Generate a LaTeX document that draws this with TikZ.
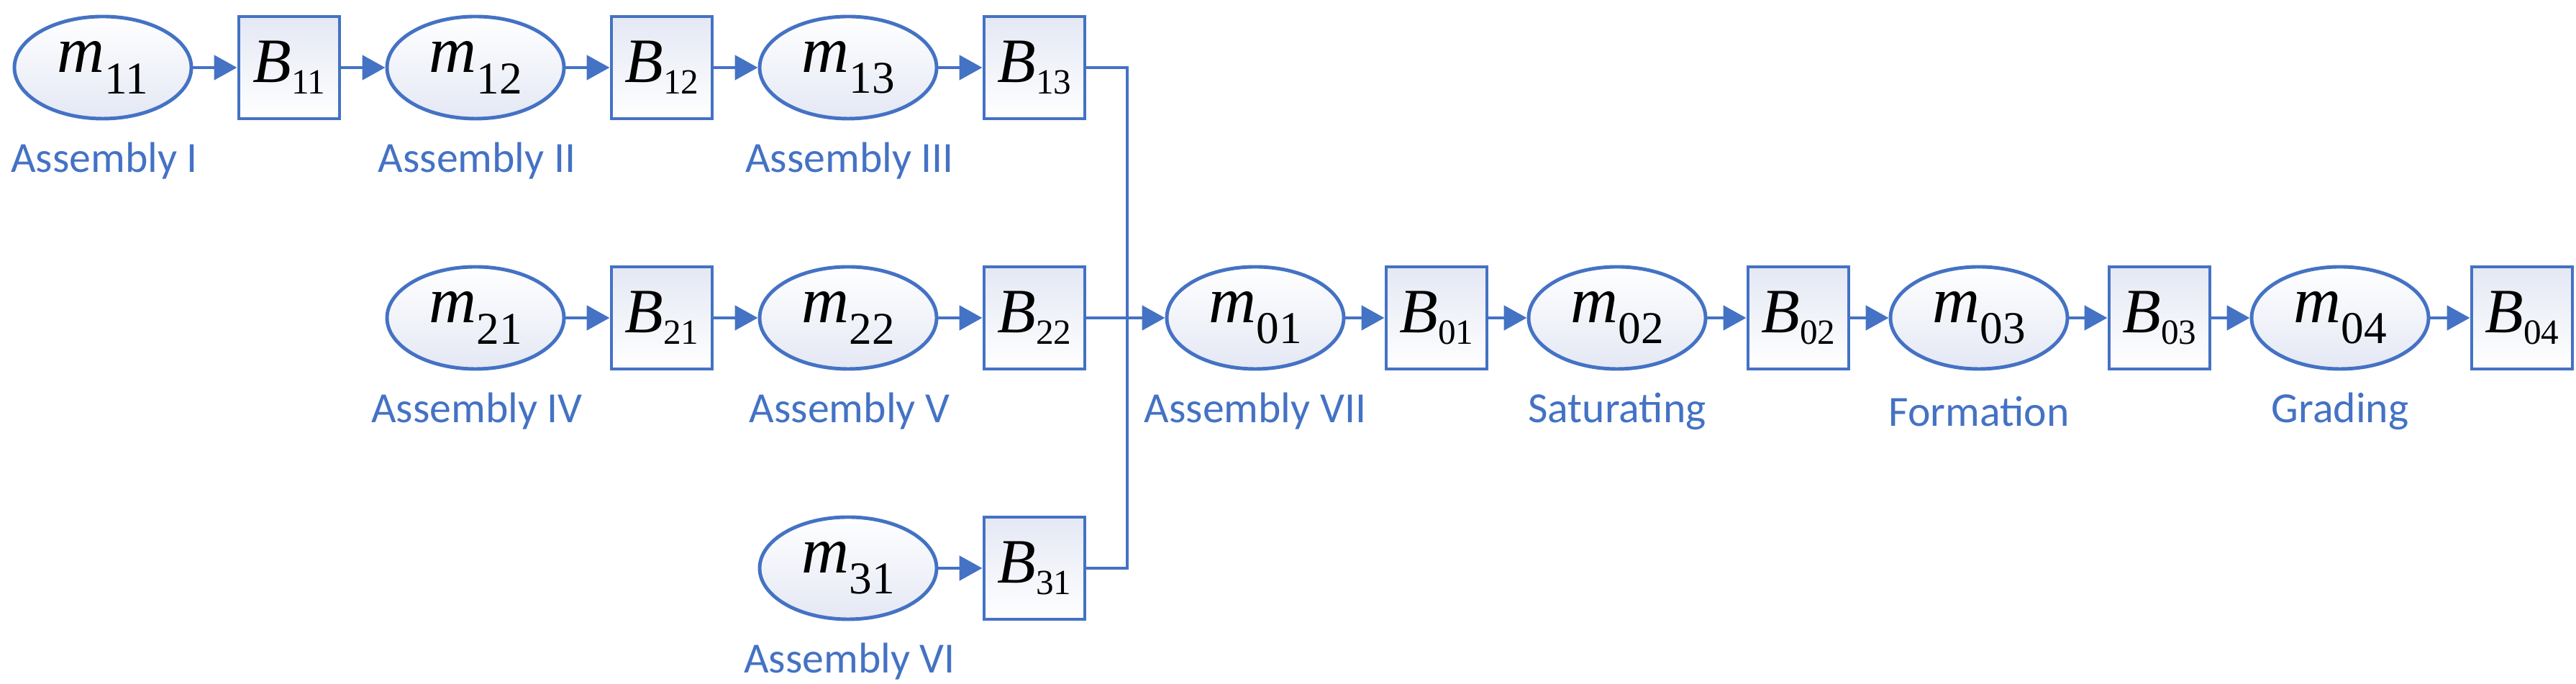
\documentclass[tikz,border=0pt]{standalone}
\usepackage{fontspec}
\setmainfont{Liberation Serif}
\newfontfamily\lab{Carlito}
\usetikzlibrary{shapes.geometric,arrows.meta}
\definecolor{bl}{HTML}{4472C4}
\definecolor{fl}{HTML}{E4E8F4}
\tikzset{
  mach/.style={ellipse,draw=bl,line width=1.4pt,minimum width=2.46cm,minimum height=1.42cm,inner sep=0pt,top color=white,bottom color=fl,font=\fontsize{26}{26}\selectfont},
  buf/.style={rectangle,draw=bl,line width=1.4pt,minimum width=1.4cm,minimum height=1.42cm,inner sep=0pt,top color=fl,bottom color=white,font=\fontsize{25}{25}\selectfont},
  lbl/.style={text=bl,font=\lab\fontsize{17}{18}\selectfont,anchor=center},
  con/.style={draw=bl,line width=1.4pt},
  arr/.style={con,-{Triangle[length=0.32cm,width=0.34cm]}}
}
\newcommand{\mm}[1]{\textit{m}\raisebox{-0.7ex}{\fontsize{18}{18}\selectfont #1}}
\newcommand{\bb}[1]{\textit{B}\raisebox{-0.4ex}{\fontsize{14}{14}\selectfont #1}}
\begin{document}
\begin{tikzpicture}
\useasboundingbox (0,0) rectangle (35.81,9.51);
\def\ya{8.57}\def\yb{5.09}\def\yc{1.61}
% row 1
\node[mach] (m11) at (1.43,\ya) {\mm{11}};
\node[buf]  (b11) at (4.02,\ya) {\bb{11}};
\node[mach] (m12) at (6.61,\ya) {\mm{12}};
\node[buf]  (b12) at (9.20,\ya) {\bb{12}};
\node[mach] (m13) at (11.79,\ya) {\mm{13}};
\node[buf]  (b13) at (14.38,\ya) {\bb{13}};
% row 2
\node[mach] (m21) at (6.61,\yb) {\mm{21}};
\node[buf]  (b21) at (9.20,\yb) {\bb{21}};
\node[mach] (m22) at (11.79,\yb) {\mm{22}};
\node[buf]  (b22) at (14.38,\yb) {\bb{22}};
\node[mach] (m01) at (17.45,\yb) {\mm{01}};
\node[buf]  (b01) at (19.97,\yb) {\bb{01}};
\node[mach] (m02) at (22.48,\yb) {\mm{02}};
\node[buf]  (b02) at (25.00,\yb) {\bb{02}};
\node[mach] (m03) at (27.51,\yb) {\mm{03}};
\node[buf]  (b03) at (30.02,\yb) {\bb{03}};
\node[mach] (m04) at (32.53,\yb) {\mm{04}};
\node[buf]  (b04) at (35.06,\yb) {\bb{04}};
% row 3
\node[mach] (m31) at (11.79,\yc) {\mm{31}};
\node[buf]  (b31) at (14.38,\yc) {\bb{31}};
% labels
\node[lbl] (l1) at (1.45,\ya-1.3) {Assembly I};
\node[lbl] (l2) at (6.63,\ya-1.3) {Assembly II};
\node[lbl] (l3) at (11.81,\ya-1.3) {Assembly III};
\node[lbl] (l4) at (6.63,\yb-1.3) {Assembly IV};
\node[lbl] (l5) at (11.81,\yb-1.3) {Assembly V};
\node[lbl] (l6) at (11.81,\yc-1.3) {Assembly VI};
\node[lbl] (l7) at (17.45,\yb-1.3) {Assembly VII};
\node[lbl] (l8) at (22.48,\yb-1.3) {Saturating};
\node[lbl] (l9) at (27.51,\yb-1.3) {Formation};
\node[lbl] (l10) at (32.53,\yb-1.3) {Grading};
% connectors
\foreach \a/\b in {m11/b11,b11/m12,m12/b12,b12/m13,m13/b13,
  m21/b21,b21/m22,m22/b22,b22/m01,m01/b01,b01/m02,m02/b02,b02/m03,m03/b03,b03/m04,m04/b04,m31/b31}
  \draw[arr] (\a) -- (\b);
\coordinate (j) at (15.67,\yb);
\draw[con] (b13.east) -| (j);
\draw[con] (b31.east) -| (j);
\end{tikzpicture}
\end{document}
